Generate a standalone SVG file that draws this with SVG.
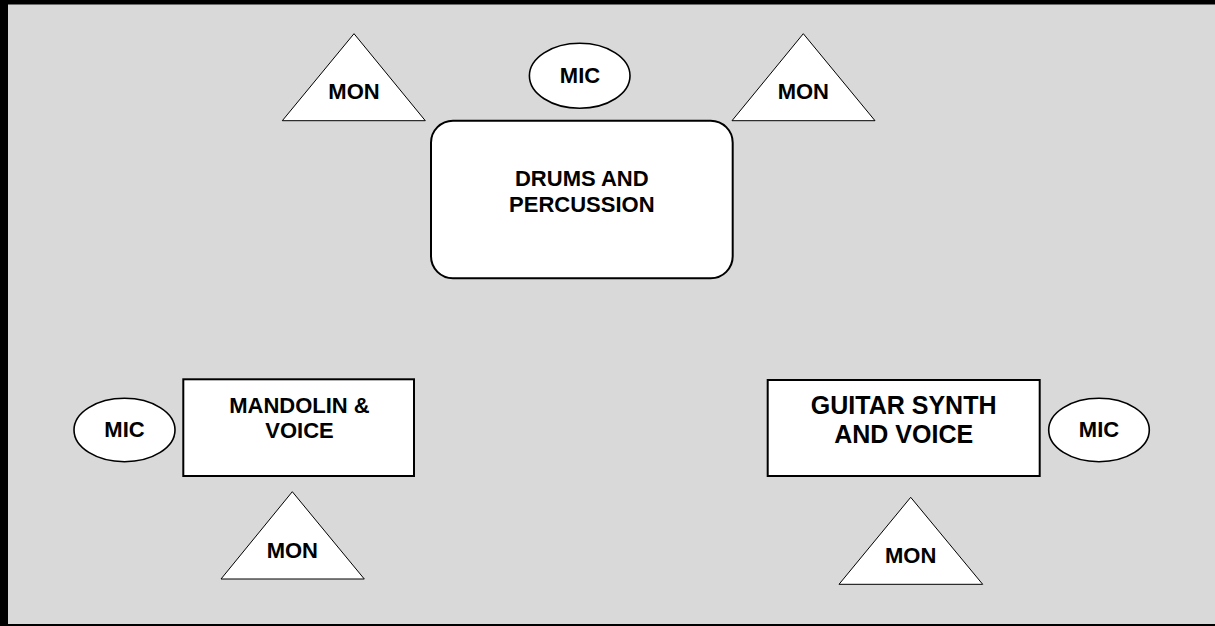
<svg xmlns="http://www.w3.org/2000/svg" width="1215" height="626" viewBox="0 0 1215 626">
<style>
text{font-family:"Liberation Sans",Arial,sans-serif;font-weight:bold;fill:#000;text-anchor:middle}
.s{font-size:22px}
.l{font-size:25px}
.tri{fill:#fff;stroke:#000;stroke-width:1}
.mic{fill:#fff;stroke:#000;stroke-width:1.6}
.box{fill:#fff;stroke:#000;stroke-width:2}
</style>
<rect x="0" y="0" width="1215" height="626" fill="#d9d9d9"/>
<rect x="0" y="0" width="1215" height="4.5" fill="#000"/>
<rect x="0" y="0" width="8" height="626" fill="#000"/>
<rect x="0" y="624" width="1215" height="2" fill="#000"/>
<g id="connectors"></g>
<g id="mon-top-left">
<polygon class="tri" points="354,33.7 282.3,120.7 425.3,120.7"/>
<text class="s" x="354" y="99">MON</text>
</g>
<g id="mic-top">
<ellipse class="mic" cx="579.7" cy="75.8" rx="50.3" ry="32.5"/>
<text class="s" x="580" y="83.3">MIC</text>
</g>
<g id="mon-top-right">
<polygon class="tri" points="803.3,33.7 732,120.7 875,120.7"/>
<text class="s" x="803.3" y="99.3">MON</text>
</g>
<g id="drums">
<rect class="box" x="431" y="120.7" width="301.7" height="157.6" rx="22" ry="22"/>
<text class="s" x="581.8" y="185.7">DRUMS AND</text>
<text class="s" x="581.8" y="212.3">PERCUSSION</text>
</g>
<g id="mic-left">
<ellipse class="mic" cx="124.5" cy="430" rx="50.5" ry="31.7"/>
<text class="s" x="124.5" y="436.7">MIC</text>
</g>
<g id="mandolin">
<rect class="box" x="183.3" y="379.3" width="230.7" height="96.7"/>
<text class="s" x="299.5" y="412.7">MANDOLIN &amp;</text>
<text class="s" x="299.5" y="437.7">VOICE</text>
</g>
<g id="mon-bottom-left">
<polygon class="tri" points="292.3,491.7 221,579 364.3,579"/>
<text class="s" x="292.3" y="557.7">MON</text>
</g>
<g id="guitar">
<rect class="box" x="767.7" y="380" width="272" height="96"/>
<text class="l" x="903.7" y="414">GUITAR SYNTH</text>
<text class="l" x="903.7" y="442.7">AND VOICE</text>
</g>
<g id="mic-right">
<ellipse class="mic" cx="1099" cy="430" rx="50.3" ry="31.7"/>
<text class="s" x="1099" y="436.7">MIC</text>
</g>
<g id="mon-bottom-right">
<polygon class="tri" points="910.7,497.3 839,584.3 982.7,584.3"/>
<text class="s" x="910.7" y="562.7">MON</text>
</g>
</svg>
